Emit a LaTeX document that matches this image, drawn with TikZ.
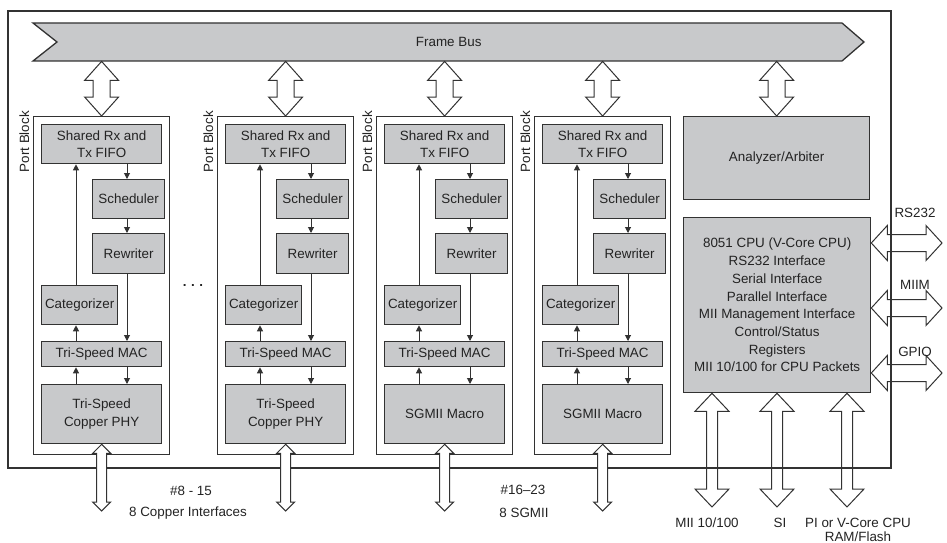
\documentclass[tikz,border=0pt]{standalone}
\usepackage{fontspec}
\setmainfont{Liberation Sans}
\usetikzlibrary{arrows.meta,calc}
\definecolor{boxgray}{RGB}{200,201,203}
\definecolor{linec}{RGB}{50,50,50}
\definecolor{textc}{RGB}{35,35,35}
% vertical double-headed block arrow: [style]{top}{bottom}{head half}{shaft half}{head length}
\newcommand\VDArrow[6][]{%
  \draw[blockarr,#1] let \p1=(#2), \p2=(#3) in
    (\x1,\y1) -- (\x1+#4pt,\y1-#6pt) -- (\x1+#5pt,\y1-#6pt) -- (\x1+#5pt,\y2+#6pt)
    -- (\x1+#4pt,\y2+#6pt) -- (\x1,\y2) -- (\x1-#4pt,\y2+#6pt) -- (\x1-#5pt,\y2+#6pt)
    -- (\x1-#5pt,\y1-#6pt) -- (\x1-#4pt,\y1-#6pt) -- cycle;}
% horizontal double-headed block arrow: [style]{left}{right}{head half}{shaft half}{head length}
\newcommand\HDArrow[6][]{%
  \draw[blockarr,#1] let \p1=(#2), \p2=(#3) in
    (\x1,\y1) -- (\x1+#6pt,\y1+#4pt) -- (\x1+#6pt,\y1+#5pt) -- (\x2-#6pt,\y1+#5pt)
    -- (\x2-#6pt,\y1+#4pt) -- (\x2,\y1) -- (\x2-#6pt,\y1-#4pt) -- (\x2-#6pt,\y1-#5pt)
    -- (\x1+#6pt,\y1-#5pt) -- (\x1+#6pt,\y1-#4pt) -- cycle;}
\begin{document}
\begin{tikzpicture}[x=1pt,y=-1pt,
  font=\fontsize{13.4}{17.7}\selectfont,
  every node/.style={text=textc},
  box/.style={draw=linec, fill=boxgray, line width=1.3pt, inner sep=2pt, anchor=north west, align=center},
  pblock/.style={draw=linec, line width=1.2pt, anchor=north west, inner sep=0pt},
  flow/.style={draw=linec, line width=1pt, -{Triangle[length=6pt,width=6pt]}},
  blockarr/.style={draw=linec, line width=1pt, line join=miter},
  lbl/.style={inner sep=0pt}]
\useasboundingbox (0,0) rectangle (947,543);
% outer border
\draw[draw=linec, line width=1.2pt] (8,11) rectangle (891,468);
% frame bus
\draw[draw=linec, fill=boxgray, line width=1.3pt] (33,23) -- (842,23) -- (864,42) -- (842,61) -- (33,61) -- (57,42) -- cycle;
\node[inner sep=0pt, minimum width=831pt, minimum height=38pt, anchor=north west] (bus) at (33,23) {Frame Bus};
% port blocks
\foreach \i/\dx/\bt in {1/0/{Tri-Speed\\Copper PHY}, 2/184/{Tri-Speed\\Copper PHY}, 3/343/{SGMII Macro}, 4/501/{SGMII Macro}}{
  \node[pblock, minimum width=136pt, minimum height=338pt] (pb\i) at (33+\dx,116) {};
  \node[rotate=90, anchor=base east, lbl] (pl\i) at (29+\dx,111) {Port Block};
  \node[box, minimum width=120pt, minimum height=39pt] (fifo\i) at (41+\dx,124) {Shared Rx and\\Tx FIFO};
  \node[box, minimum width=72pt, minimum height=39pt] (sch\i) at (92+\dx,179) {Scheduler};
  \node[box, minimum width=72pt, minimum height=40pt] (rew\i) at (92+\dx,233) {Rewriter};
  \node[box, minimum width=76pt, minimum height=39pt] (cat\i) at (41+\dx,285) {Categorizer};
  \node[box, minimum width=120pt, minimum height=25pt] (mac\i) at (41+\dx,341) {Tri-Speed MAC};
  \node[box, minimum width=120pt, minimum height=59pt] (phy\i) at (41+\dx,384) {\bt};
  \coordinate (up\i) at (76+\dx,0);
  \coordinate (dn\i) at (127+\dx,0);
  \draw[flow] (fifo\i.south -| dn\i) -- (sch\i.north -| dn\i);
  \draw[flow] (sch\i.south -| dn\i) -- (rew\i.north -| dn\i);
  \draw[flow] (rew\i.south -| dn\i) -- (mac\i.north -| dn\i);
  \draw[flow] (mac\i.south -| dn\i) -- (phy\i.north -| dn\i);
  \draw[flow] (phy\i.north -| up\i) -- (mac\i.south -| up\i);
  \draw[flow] (mac\i.north -| up\i) -- (cat\i.south -| up\i);
  \draw[flow] (cat\i.north -| up\i) -- (fifo\i.south -| up\i);
  \VDArrow[fill=white]{pb\i.north |- bus.south}{pb\i.north}{17}{8.5}{19}
  \coordinate (pe\i) at (101+\dx,511);
  \VDArrow[fill=white]{phy\i.south}{pe\i}{9}{5}{9}
}
\node[lbl, anchor=base] (dots) at (193,286) {\textbf{.\,\,.\,\,.}};
% port labels
\node (cu1) at (191,491) {\#8 - 15};
\node (cu2) at (188,513) {8 Copper Interfaces};
\node (sg1) at (523,490) {\#16–23};
\node (sg2) at (524,513) {8 SGMII};
% analyzer and CPU
\node[box, minimum width=186pt, minimum height=83pt] (anal) at (683,116) {Analyzer/Arbiter};
\VDArrow[fill=white]{anal.north |- bus.south}{anal.north}{17}{8.5}{19}
\node[box, minimum width=187pt, minimum height=175pt] (cpu) at (683,217)
  {8051 CPU (V-Core CPU)\\RS232 Interface\\Serial Interface\\Parallel Interface\\MII Management Interface\\Control/Status\\Registers\\MII 10/100 for CPU Packets};
% right side interfaces
\coordinate (rsE) at (942,243);
\coordinate (miE) at (942,308);
\coordinate (gpE) at (942,373);
\HDArrow{cpu.east |- rsE}{rsE}{17.5}{8.5}{16}
\HDArrow{cpu.east |- miE}{miE}{17.5}{8.5}{16}
\HDArrow{cpu.east |- gpE}{gpE}{17.5}{8.5}{16}
\node (lrs) at (915,213) {RS232};
\node (lmi) at (915,285) {MIIM};
\node (lgp) at (915,352) {GPIO};
% bottom interfaces
\coordinate (miiE) at (712,507);
\coordinate (siE) at (777,507);
\coordinate (piE) at (847,507);
\VDArrow{cpu.south -| miiE}{miiE}{17}{5.5}{18}
\VDArrow{cpu.south -| siE}{siE}{17}{5.5}{18}
\VDArrow{cpu.south -| piE}{piE}{17}{5.5}{18}
\node (lmii) at (707,523) {MII 10/100};
\node (lsi) at (780,523) {SI};
\node (lpi1) at (858,523) {PI or V-Core CPU};
\node (lpi2) at (858,537) {RAM/Flash};
\end{tikzpicture}
\end{document}
